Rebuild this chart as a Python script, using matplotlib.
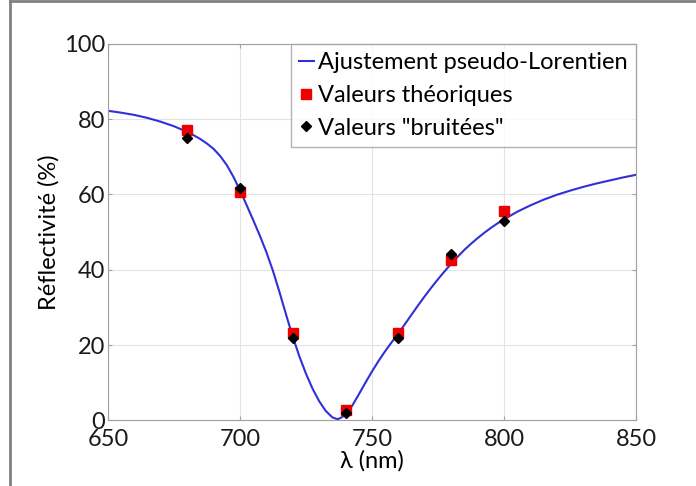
import matplotlib
matplotlib.use('Agg')
import matplotlib.pyplot as plt
from matplotlib.lines import Line2D

plt.rcParams['font.family'] = ['Lato', 'DejaVu Sans']

# fitted curve
fit_x = [650, 655, 660, 665, 670, 675, 680, 682.5, 685, 687.5, 690, 692.5, 695, 697.5,
         700, 702.5, 705, 707.5, 710, 712.5, 715, 717.5, 720, 722.5, 725, 727.5, 730,
         732.5, 735, 737, 738.5, 740, 742.5, 745, 747.5, 750, 752.5, 755, 757.5, 760,
         762.5, 765, 767.5, 770, 772.5, 775, 777.5, 780, 782.5, 785, 787.5, 790, 792.5,
         795, 797.5, 800, 805, 810, 815, 820, 825, 830, 835, 840, 845, 850]
fit_y = [82.2, 81.7, 81.1, 80.3, 79.3, 78.1, 76.6, 75.7, 74.7, 73.5, 72.1, 70.2, 67.8, 64.7,
         61.1, 57.2, 53.2, 49.1, 44.7, 39.7, 34.0, 28.0, 22.2, 17.0, 12.4, 8.4, 5.1,
         2.5, 0.8, 0.3, 0.8, 1.6, 3.9, 6.9, 10.0, 13.0, 15.8, 18.4, 20.8, 23.1,
         25.6, 28.1, 30.6, 33.0, 35.3, 37.5, 39.6, 41.6, 43.5, 45.3, 46.9, 48.4, 49.8,
         51.1, 52.3, 53.4, 55.4, 57.1, 58.6, 59.9, 61.0, 62.0, 62.9, 63.7, 64.5, 65.2]

wl = [680, 700, 720, 740, 760, 780, 800]
theo = [77.0, 60.7, 23.2, 2.7, 23.1, 42.7, 55.7]
noisy = [75.0, 61.7, 21.9, 2.0, 21.9, 44.3, 53.0]

fig = plt.figure(figsize=(6.96, 4.86), dpi=100)
ax = fig.add_axes([0.155, 0.135, 0.759, 0.775])

ax.plot(fit_x, fit_y, color='#3030d8', lw=1.5, label='Ajustement pseudo-Lorentien')
ax.plot(wl, theo, 's', color='#ee0000', ms=7, mec='#ee0000', label='Valeurs théoriques')
ax.plot(wl, noisy, 'D', color='black', ms=5, label='Valeurs "bruitées"')

ax.set_xlim(650, 850)
ax.set_ylim(0, 100)
ax.set_xticks([650, 700, 750, 800, 850])
ax.set_yticks([0, 20, 40, 60, 80, 100])
ax.grid(True, color='#e3e3e3', lw=0.8)
ax.set_axisbelow(True)
for s in ax.spines.values():
    s.set_color('#a0a0a0')
ax.tick_params(direction='in', length=3, color='#a0a0a0', labelsize=17, pad=2,
               top=True, right=True, labelcolor='#1a1a1a')
ax.tick_params(axis='x', pad=6)

ax.set_xlabel('λ (nm)', fontsize=17, labelpad=0)
ax.set_ylabel('Réflectivité (%)', fontsize=17, labelpad=3)

leg = ax.legend(loc='upper right', fontsize=17, borderaxespad=0, frameon=True,
                fancybox=False, handlelength=0.6, handletextpad=0.2,
                labelspacing=0.5, borderpad=0.35, numpoints=1)
leg.get_frame().set_edgecolor('#a0a0a0')
leg.get_frame().set_linewidth(1.0)

# frame around the figure
fig.add_artist(Line2D([0.0137, 0.0137], [0, 1], color='#808080', lw=2))
fig.add_artist(Line2D([0.0137, 1], [0.997, 0.997], color='#808080', lw=2))

fig.savefig('out.png', dpi=100)
